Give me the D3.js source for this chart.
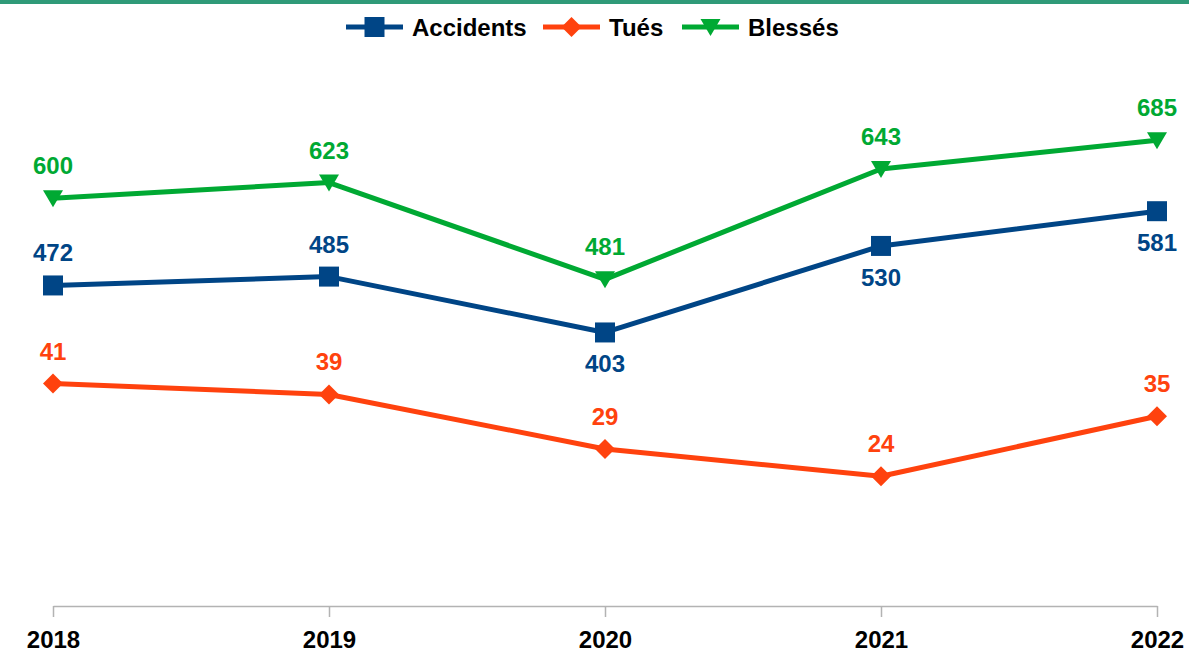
<!DOCTYPE html>
<html lang="fr">
<head>
<meta charset="UTF-8">
<script src="https://d3js.org/d3.v7.min.js"></script>
<style>
body { margin: 0; background: #fff; }
svg { display: block; font-family: "Liberation Sans", Arial, sans-serif; }
</style>
</head>
<body>
<svg id="chart" width="1189" height="652"></svg>
<script>
// data
const years = ['2018', '2019', '2020', '2021', '2022'];
const accidents = [472, 485, 403, 530, 581];
const tues = [41, 39, 29, 24, 35];
const blesses = [600, 623, 481, 643, 685];
// where the accidents labels sit (a = above, b = below)
const accidentsLabelPos = ['a', 'a', 'b', 'b', 'b'];

const svg = d3.select('#chart');

svg.append('rect')
    .attr('x', 0).attr('y', 0)
    .attr('width', 1189).attr('height', 4)
    .attr('fill', '#2f9a78');

let x = d3.scalePoint().domain(years).range([53, 1157]);
let y = d3.scaleLinear().domain([0, 800]).range([607, 62]);
let y2 = d3.scaleLinear().domain([0, 100]).range([607, 62]);

// x axis
let xAxis = svg.append('g')
    .attr('transform', 'translate(0,606)')
    .call(d3.axisBottom(x).tickSize(11).tickSizeOuter(0).tickPadding(14));
xAxis.select('.domain').attr('stroke', '#b3b3b3').attr('stroke-width', 1.5);
xAxis.selectAll('.tick line').attr('stroke', '#b3b3b3').attr('stroke-width', 1.5);
xAxis.selectAll('.tick text')
    .attr('font-size', 24).attr('font-weight', 'bold')
    .attr('fill', '#000')
    .attr('font-family', '"Liberation Sans", Arial, sans-serif');

const series = [
    { name: 'Accidents', values: accidents, scale: y, color: '#004586', marker: 'square' },
    { name: 'Tués', values: tues, scale: y2, color: '#ff420e', marker: 'diamond' },
    { name: 'Blessés', values: blesses, scale: y, color: '#00a933', marker: 'tri' }
];

let markerPath = (type) => {
    if (type === 'square') return 'M-10,-10H10V10H-10Z';
    if (type === 'diamond') return 'M0,-10L10,0L0,10L-10,0Z';
    return 'M-10,-8H10L0,9Z';
};

series.forEach((s) => {
    let line = d3.line()
        .x((d, i) => x(years[i]))
        .y((d) => s.scale(d));

    svg.append('path')
        .datum(s.values)
        .attr('d', line)
        .attr('fill', 'none')
        .attr('stroke', s.color)
        .attr('stroke-width', 5)
        .attr('stroke-linejoin', 'round');

    svg.append('g').selectAll('path')
        .data(s.values)
        .enter()
        .append('path')
        .attr('transform', (d, i) => 'translate(' + x(years[i]) + ',' + s.scale(d) + ')')
        .attr('d', markerPath(s.marker))
        .attr('fill', s.color);

    svg.append('g').selectAll('text')
        .data(s.values)
        .enter()
        .append('text')
        .attr('x', (d, i) => x(years[i]))
        .attr('y', (d, i) => {
            let below = s.name === 'Accidents' && accidentsLabelPos[i] === 'b';
            return s.scale(d) + (below ? 40 : -24);
        })
        .attr('text-anchor', 'middle')
        .attr('font-size', 24)
        .attr('font-weight', 'bold')
        .attr('fill', s.color)
        .text((d) => d);
});

// legend
const legendX = [346, 543, 682];
let legend = svg.append('g');
series.forEach((s, i) => {
    let g = legend.append('g').attr('transform', 'translate(' + legendX[i] + ',27)');
    g.append('line')
        .attr('x1', 0).attr('x2', 57)
        .attr('stroke', s.color).attr('stroke-width', 5);
    g.append('path')
        .attr('transform', 'translate(28.5,0)')
        .attr('d', markerPath(s.marker))
        .attr('fill', s.color);
    g.append('text')
        .attr('x', 66).attr('y', 9)
        .attr('font-size', 24).attr('font-weight', 'bold')
        .attr('fill', '#000')
        .text(s.name);
});
</script>
</body>
</html>
